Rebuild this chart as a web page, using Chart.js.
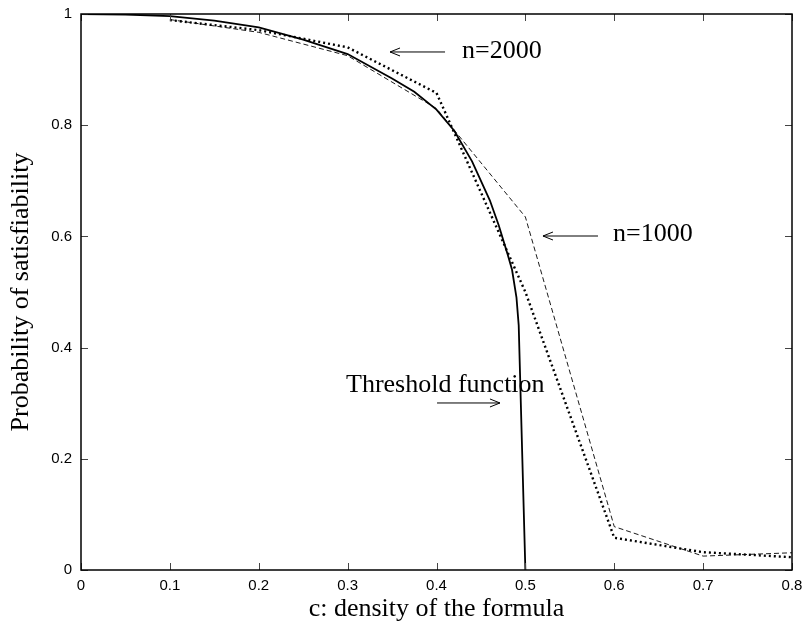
<!DOCTYPE html>
<html>
<head>
<meta charset="utf-8">
<script src="https://cdn.jsdelivr.net/npm/chart.js@4/dist/chart.umd.min.js"></script>
<style>
  html, body { margin: 0; padding: 0; background: #fff; }
  #wrap { width: 806px; height: 629px; }
</style>
</head>
<body>
<div id="wrap"><canvas id="satChart" width="806" height="629"></canvas></div>
<script>
// ========== DATA ==========
const thresholdC = [0, 0.05, 0.1, 0.15, 0.2, 0.25, 0.3, 0.35, 0.375, 0.4, 0.42, 0.44, 0.45, 0.46, 0.47, 0.48, 0.485, 0.49, 0.4925, 0.5];
const thresholdP = [1, 0.999, 0.996, 0.988, 0.976, 0.954, 0.928, 0.884, 0.86, 0.828, 0.79, 0.735, 0.7, 0.665, 0.62, 0.568, 0.54, 0.49, 0.44, 0];

const sampleC = [0.1, 0.2, 0.3, 0.4, 0.5, 0.6, 0.7, 0.8];
const n1000P = [0.99, 0.967, 0.925, 0.83, 0.635, 0.078, 0.025, 0.031];
const n2000P = [0.989, 0.971, 0.94, 0.858, 0.5, 0.058, 0.032, 0.023];

const xTicks = [0, 0.1, 0.2, 0.3, 0.4, 0.5, 0.6, 0.7, 0.8];
const yTicks = [0, 0.2, 0.4, 0.6, 0.8, 1];

// labels with arrows, in data units
const notes = [
  { text: 'n=2000', tx: 0.4287, ty: 0.9203, from: [0.4096, 0.9317], to: [0.3477, 0.9317] },
  { text: 'n=1000', tx: 0.5986, ty: 0.5917, from: [0.5817, 0.6007], to: [0.5198, 0.6007] },
  { text: 'Threshold function', tx: 0.2982, ty: 0.3201, from: [0.4006, 0.3004], to: [0.4714, 0.3004] }
];

const toPoints = (xs, ys) => xs.map((x, i) => ({ x, y: ys[i] }));

// ========== FRAME, INWARD TICKS, NOTES ==========
const framePlugin = {
  id: 'frame',
  afterDraw(chart) {
    const { ctx, chartArea: a, scales } = chart;
    ctx.save();
    ctx.strokeStyle = '#444';
    ctx.lineWidth = 1;
    xTicks.forEach(v => {
      const px = Math.round(scales.x.getPixelForValue(v)) + 0.5;
      ctx.beginPath();
      ctx.moveTo(px, a.bottom); ctx.lineTo(px, a.bottom - 7);
      ctx.moveTo(px, a.top); ctx.lineTo(px, a.top + 7);
      ctx.stroke();
    });
    yTicks.forEach(v => {
      const py = Math.round(scales.y.getPixelForValue(v)) + 0.5;
      ctx.beginPath();
      ctx.moveTo(a.left, py); ctx.lineTo(a.left + 7, py);
      ctx.moveTo(a.right, py); ctx.lineTo(a.right - 7, py);
      ctx.stroke();
    });
    ctx.strokeStyle = '#000';
    ctx.lineWidth = 1.5;
    ctx.strokeRect(a.left, a.top, a.right - a.left, a.bottom - a.top);

    ctx.fillStyle = '#000';
    ctx.font = '26px "Liberation Serif", "Times New Roman", serif';
    ctx.textBaseline = 'alphabetic';
    ctx.textAlign = 'left';
    ctx.lineWidth = 1;
    notes.forEach(n => {
      ctx.fillText(n.text, scales.x.getPixelForValue(n.tx), scales.y.getPixelForValue(n.ty));
      const x0 = scales.x.getPixelForValue(n.from[0]), y0 = scales.y.getPixelForValue(n.from[1]);
      const x1 = scales.x.getPixelForValue(n.to[0]), y1 = scales.y.getPixelForValue(n.to[1]);
      const dir = Math.sign(x1 - x0);
      ctx.beginPath();
      ctx.moveTo(x0, y0); ctx.lineTo(x1, y1);
      ctx.moveTo(x1 - dir * 10, y1 - 4); ctx.lineTo(x1, y1); ctx.lineTo(x1 - dir * 10, y1 + 4);
      ctx.stroke();
    });
    ctx.restore();
  }
};

// ========== CHART ==========
function initSatChart() {
  const el = document.getElementById('satChart');
  const tickFont = { family: '"Liberation Sans", Arial, sans-serif', size: 15 };
  const titleFont = { family: '"Liberation Serif", "Times New Roman", serif', size: 26 };
  const fmt = v => String(Math.round(v * 10) / 10);

  new Chart(el.getContext('2d'), {
    type: 'scatter',
    data: {
      datasets: [
        {
          label: 'Threshold function',
          data: toPoints(thresholdC, thresholdP),
          showLine: true,
          borderColor: '#000',
          borderWidth: 1.8,
          pointRadius: 0,
          tension: 0
        },
        {
          label: 'n=1000',
          data: toPoints(sampleC, n1000P),
          showLine: true,
          borderColor: '#000',
          borderWidth: 0.9,
          borderDash: [5, 3],
          pointRadius: 0,
          tension: 0
        },
        {
          label: 'n=2000',
          data: toPoints(sampleC, n2000P),
          showLine: true,
          borderColor: '#000',
          borderWidth: 2.4,
          borderDash: [2, 3],
          pointRadius: 0,
          tension: 0
        }
      ]
    },
    options: {
      responsive: false,
      animation: false,
      events: [],
      layout: { padding: { top: 14, right: 14, left: 0, bottom: 0 } },
      plugins: { legend: { display: false }, tooltip: { enabled: false } },
      scales: {
        x: {
          type: 'linear',
          min: 0, max: 0.8,
          afterBuildTicks: s => { s.ticks = xTicks.map(v => ({ value: v })); },
          afterFit: s => { s.height = 59; s.paddingLeft = 0; s.paddingRight = 0; },
          grid: { display: false, drawTicks: false },
          border: { display: false },
          ticks: { color: '#000', padding: 7, maxRotation: 0, font: tickFont, callback: fmt },
          title: {
            display: true,
            text: 'c: density of the formula',
            color: '#000',
            padding: { top: 0, bottom: 4 },
            font: titleFont
          }
        },
        y: {
          type: 'linear',
          min: 0, max: 1,
          afterBuildTicks: s => { s.ticks = yTicks.map(v => ({ value: v })); },
          afterFit: s => { s.width = 81; s.paddingTop = 0; s.paddingBottom = 0; },
          grid: { display: false, drawTicks: false },
          border: { display: false },
          ticks: { color: '#000', padding: 9, font: tickFont, callback: fmt },
          title: {
            display: true,
            text: 'Probability of satisfiability',
            color: '#000',
            padding: { top: 6, bottom: 0 },
            font: titleFont
          }
        }
      }
    },
    plugins: [framePlugin]
  });
}

document.addEventListener('DOMContentLoaded', () => {
  initSatChart();
});
</script>
</body>
</html>
